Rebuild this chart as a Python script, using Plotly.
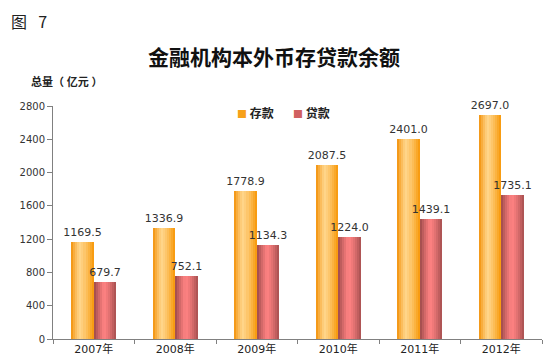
import plotly.graph_objects as go

years = ["2007年", "2008年", "2009年", "2010年", "2011年", "2012年"]
deposits = [1169.5, 1336.9, 1778.9, 2087.5, 2401.0, 2697.0]
loans = [679.7, 752.1, 1134.3, 1224.0, 1439.1, 1735.1]
series_names = ["存款", "贷款"]

W = 0.277  # bar width in category units
N = 11     # gradient slices

def lerp(c1, c2, t):
    return tuple(round(a + (b - a) * t) for a, b in zip(c1, c2))

def grad_color(edge_l, edge_r, hi, peak, u):
    if u <= peak:
        t = (u / peak) ** 0.8
        c = lerp(edge_l, hi, t)
    else:
        t = ((u - peak) / (1 - peak)) ** 1.3
        c = lerp(hi, edge_r, t)
    return "rgb(%d,%d,%d)" % c

styles = [
    dict(edge_l=(242, 140, 0), edge_r=(247, 150, 5), hi=(255, 214, 140), peak=0.38, solid="#F7A11A"),
    dict(edge_l=(150, 70, 70), edge_r=(165, 80, 80), hi=(255, 130, 130), peak=0.45, solid="#D06060"),
]
legend_ids = ["legend", "legend2"]

fig = go.Figure()
xs = list(range(len(years)))
font_num = "DejaVu Sans, Noto Sans CJK SC"

for s, (vals, st) in enumerate(zip([deposits, loans], styles)):
    off0 = -W if s == 0 else 0.0
    fig.add_trace(go.Bar(
        x=xs, y=vals, width=W, offset=off0,
        marker=dict(color=st["solid"], line=dict(width=0)),
        text=["%.1f" % v for v in vals], textposition="outside", constraintext="none",
        textfont=dict(family=font_num, size=11, color="#333333"),
        cliponaxis=False, showlegend=False, hoverinfo="skip",
    ))
    for k in range(N):
        start = off0 + W * k / N
        u = (k + 0.5) / N
        fig.add_trace(go.Bar(
            x=xs, y=vals, width=W - W * k / N, offset=start,
            marker=dict(color=grad_color(st["edge_l"], st["edge_r"], st["hi"], st["peak"], u),
                        line=dict(width=0)),
            showlegend=False, hoverinfo="skip",
        ))
    fig.add_trace(go.Scatter(
        x=[None], y=[None], mode="markers", legend=legend_ids[s],
        name='<span style="color:%s;font-size:10px">■</span> <b>%s</b>' % (st["solid"], series_names[s]),
        marker=dict(symbol="square", size=1, color="rgba(0,0,0,0)"),
    ))

L, R, T, B = 53, 548 - 6, 106, 364 - 25
leg_common = dict(orientation="h", y=0.97, xanchor="left", yanchor="middle",
                  font=dict(family="Noto Sans CJK SC", size=12, color="#222222"),
                  bgcolor="rgba(0,0,0,0)")

fig.update_layout(
    width=548, height=364,
    margin=dict(l=53, r=6, t=106, b=25),
    paper_bgcolor="white", plot_bgcolor="white",
    barmode="overlay", bargap=0,
    showlegend=True,
    legend=dict(x=(197 - L) / (R - L), **leg_common),
    legend2=dict(x=(253 - L) / (R - L), **leg_common),
    title=dict(text="<b>金融机构本外币存贷款余额</b>", x=0.5, xref="container", xanchor="center",
               y=1 - 58 / 364, yref="container", yanchor="middle",
               font=dict(family="Noto Sans CJK SC", size=21, color="#111111")),
    xaxis=dict(range=[-0.5, 5.5], tickvals=xs, ticktext=years, ticks="",
               showline=True, linecolor="#808080", linewidth=1, showgrid=False, zeroline=False,
               tickfont=dict(family=font_num, size=11, color="#222222"),
               minor=dict(tickvals=[-0.5, 0.5, 1.5, 2.5, 3.5, 4.5, 5.5], ticks="outside",
                          ticklen=4, tickcolor="#808080")),
    yaxis=dict(range=[0, 2800], dtick=400, ticks="outside", ticklen=5, tickcolor="#808080",
               showline=True, linecolor="#808080", linewidth=1, showgrid=False, zeroline=False,
               tickfont=dict(family=font_num, size=10, color="#333333")),
    annotations=[
        dict(text="图\u2002\u20097", x=10, y=21, xref="paper", yref="paper", showarrow=False,
             font=dict(family="Noto Sans CJK SC", size=16, color="#222222"),
             xanchor="left", yanchor="middle", borderpad=0),
        dict(text="<b>总量（\u2005亿元\u2005）</b>", x=30, y=81, xref="paper", yref="paper", showarrow=False,
             font=dict(family="Noto Sans CJK SC", size=11, color="#222222"),
             xanchor="left", yanchor="middle", borderpad=0),
    ],
)

for a in fig.layout.annotations:
    a.x = (a.x - L) / (R - L)
    a.y = (B - a.y) / (B - T)

fig.write_html("out.html", config={"displayModeBar": False},
               post_script="document.body.style.margin='0';document.body.style.overflow='hidden';")
